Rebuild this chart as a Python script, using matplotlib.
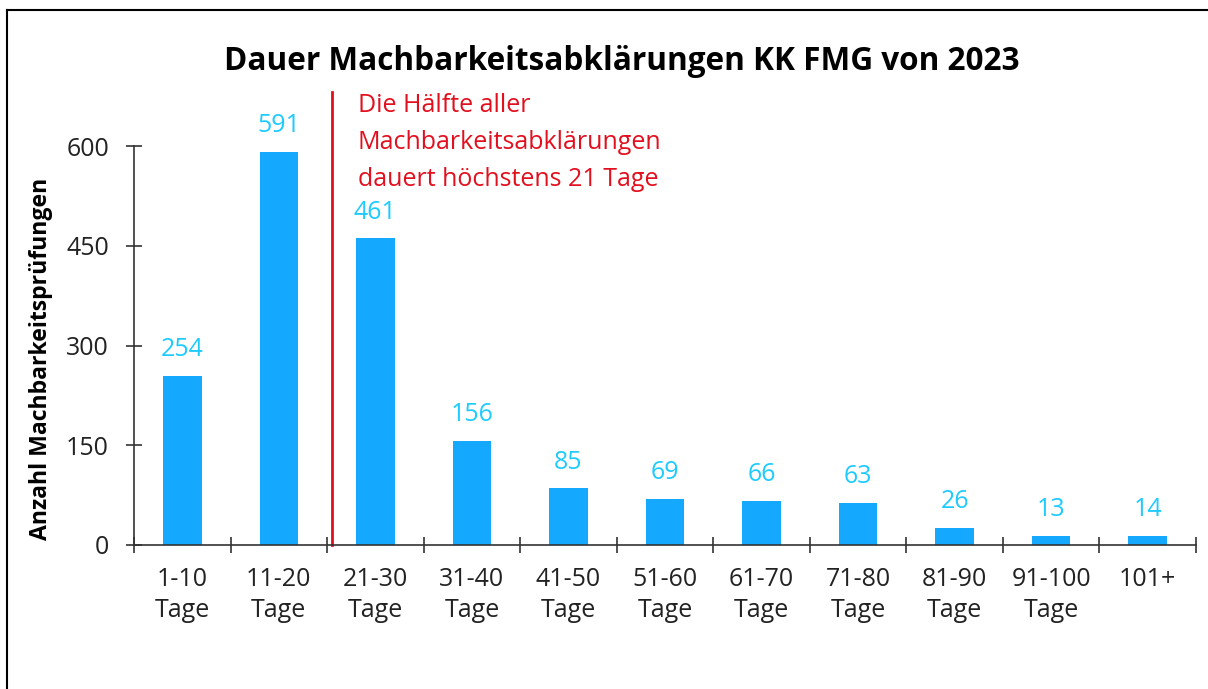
import matplotlib
matplotlib.use("Agg")
import matplotlib.pyplot as plt
from matplotlib.lines import Line2D

plt.rcParams['font.family'] = ['Open Sans', 'DejaVu Sans']

categories = ["1-10\nTage", "11-20\nTage", "21-30\nTage", "31-40\nTage", "41-50\nTage",
              "51-60\nTage", "61-70\nTage", "71-80\nTage", "81-90\nTage", "91-100\nTage", "101+"]
values = [254, 591, 461, 156, 85, 69, 66, 63, 26, 13, 14]
yticks = [0, 150, 300, 450, 600]
title = "Dauer Machbarkeitsabklärungen KK FMG von 2023"
ylabel = "Anzahl Machbarkeitsprüfungen"
note = "Die Hälfte aller\nMachbarkeitsabklärungen\ndauert höchstens 21 Tage"
median_pos = 1.55

bar_color = "#14A9FF"
label_color = "#1ECBFF"
red = "#E2101E"

fig = plt.figure(figsize=(12.08, 6.89), dpi=100)
ax = fig.add_axes([134/1208, 1-545/689, (1196-134)/1208, (545-146)/689])

x = list(range(len(values)))
ax.bar(x, values, width=0.4, color=bar_color)
for xi, v in zip(x, values):
    ax.annotate(str(v), (xi, v), xytext=(0, 10), textcoords="offset points",
                ha="center", va="bottom", color=label_color, fontsize=18, annotation_clip=False)

ax.set_xlim(-0.5, len(values) - 0.5)
ax.set_ylim(0, 600)
ax.set_yticks(yticks)
ax.set_yticklabels([str(t) for t in yticks], fontsize=18, color="#222222")
ax.set_xticks([i - 0.5 for i in range(len(values) + 1)])
ax.set_xticklabels([])
ax.set_xticks(x, minor=True)
ax.set_xticklabels(categories, minor=True, fontsize=18, color="#222222", linespacing=1.33)
ax.tick_params(axis="x", which="major", direction="inout", length=12, width=1.2, color="#333333")
ax.tick_params(axis="x", which="minor", length=0, pad=15.5)
ax.tick_params(axis="y", direction="inout", length=12, width=1.2, color="#333333", pad=12)

for s in ["top", "right"]:
    ax.spines[s].set_visible(False)
for s in ["left", "bottom"]:
    ax.spines[s].set_color("#333333")
    ax.spines[s].set_linewidth(1.2)

ax.set_ylabel(ylabel, fontsize=16.6, fontweight="bold")
ax.yaxis.set_label_coords(-0.076, 0.466)

ax.plot([median_pos, median_pos], [0, 681], color=red, lw=2, clip_on=False)
ax.text(median_pos + 0.27, 679, note, color=red, fontsize=18, va="top", ha="left",
        linespacing=1.62)

fig.text(622/1208, 1-62/689, title, ha="center", va="center", fontsize=22.7, fontweight="bold")

# outer frame (top and left edges visible)
fig.add_artist(Line2D([7/1208, 7/1208], [0, 1-10/689], transform=fig.transFigure, color="black", lw=1.5))
fig.add_artist(Line2D([7/1208, 1], [1-10/689, 1-10/689], transform=fig.transFigure, color="black", lw=1.5))

fig.savefig("out.png", dpi=100)
